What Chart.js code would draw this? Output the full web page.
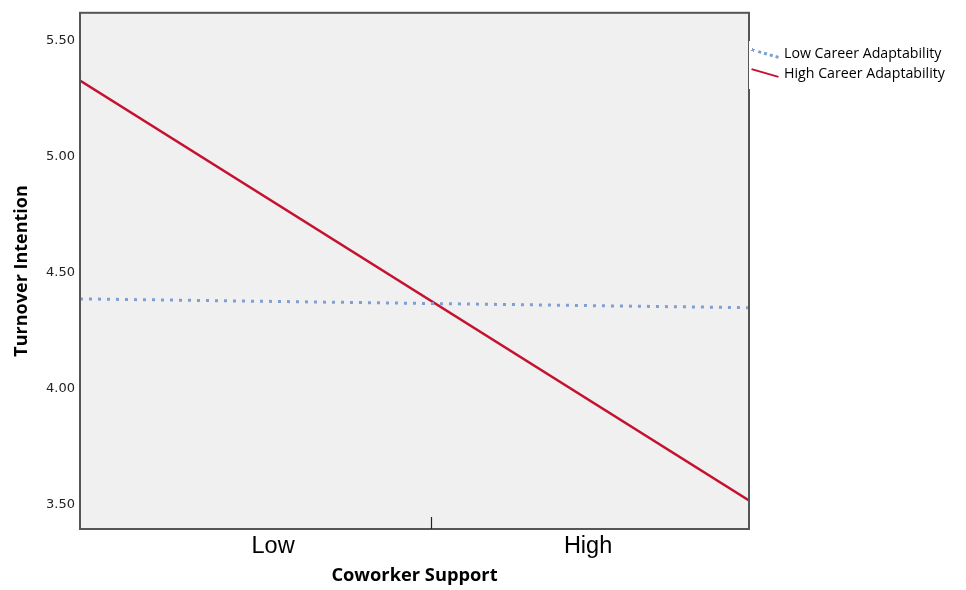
<!DOCTYPE html>
<html>
<head>
<meta charset="utf-8">
<script src="https://cdn.jsdelivr.net/npm/chart.js@4"></script>
<style>
  html, body { margin: 0; padding: 0; background: #fff; }
  #wrap { position: relative; width: 966px; height: 590px; }
  #legend {
    position: absolute; left: 749px; top: 41px; background: #fff;
    font-family: 'Open Sans', sans-serif; font-size: 14.2px; color: #000;
    padding: 2px 0 6px 2px; line-height: 20px;
  }
  .leg-row { display: flex; align-items: center; white-space: nowrap; }
  .leg-swatch { width: 28px; height: 0; margin-right: 5px; transform: rotate(16deg); }
</style>
</head>
<body>
<div id="wrap">
  <canvas id="c" width="966" height="590"></canvas>
  <div id="legend"></div>
</div>
<script>
/* ---- data ---- */
const xTickValues = [0, 0.5, 1];
const xTickLabels = ['Low', '', 'High'];
const lineXs      = [-0.613, 1.511];          // fit lines run edge to edge
const lowCA       = [4.388, 4.350];           // Low Career Adaptability
const highCA      = [5.328, 3.520];           // High Career Adaptability
const yTicks      = [3.50, 4.00, 4.50, 5.00, 5.50];
const seriesNames = ['Low Career Adaptability', 'High Career Adaptability'];

const BLUE = '#7f9fd3';
const RED  = '#c5112e';

/* ---- plot background, frame and the middle tick ---- */
const frame = {
  id: 'frame',
  beforeDraw(chart) {
    const a = chart.chartArea, ctx = chart.ctx;
    ctx.save();
    ctx.fillStyle = '#f0f0f0';
    ctx.fillRect(a.left, a.top, a.right - a.left, a.bottom - a.top);
    ctx.restore();
  },
  afterDraw(chart) {
    const a = chart.chartArea, ctx = chart.ctx;
    ctx.save();
    ctx.strokeStyle = '#555';
    ctx.lineWidth = 2;
    ctx.strokeRect(a.left, a.top, a.right - a.left, a.bottom - a.top);
    const xs = chart.scales.x;
    ctx.lineWidth = 1.2;
    ctx.strokeStyle = '#222';
    xTickLabels.forEach((lab, i) => {
      if (lab !== '') return;
      const px = Math.round(xs.getPixelForValue(xTickValues[i])) + 0.5;
      ctx.beginPath();
      ctx.moveTo(px, a.bottom);
      ctx.lineTo(px, a.bottom - 12);
      ctx.stroke();
    });
    ctx.restore();
  }
};

const toPts = vals => vals.map((v, i) => ({ x: lineXs[i], y: v }));

new Chart(document.getElementById('c'), {
  type: 'line',
  data: {
    datasets: [
      { label: seriesNames[0], data: toPts(lowCA), borderColor: BLUE, borderWidth: 3,
        borderDash: [3, 6], pointRadius: 0, fill: false },
      { label: seriesNames[1], data: toPts(highCA), borderColor: RED, borderWidth: 2.5,
        pointRadius: 0, fill: false }
    ]
  },
  options: {
    responsive: false, animation: false,
    layout: { padding: { top: 11, right: 217, left: 0, bottom: 0 } },
    plugins: { legend: { display: false }, tooltip: { enabled: false } },
    scales: {
      x: {
        type: 'linear', min: lineXs[0], max: lineXs[1],
        afterBuildTicks: s => { s.ticks = xTickValues.map(v => ({ value: v })); },
        afterFit: s => { s.height = 61; },
        grid: { display: false, drawTicks: false },
        border: { display: false },
        ticks: {
          padding: 3, color: '#000', maxRotation: 0, autoSkip: false,
          font: { family: 'Liberation Sans', size: 23.5 },
          callback: (v, i) => xTickLabels[i]
        },
        title: {
          display: true, text: 'Coworker Support', color: '#000',
          font: { family: 'Open Sans', size: 18.3, weight: 'bold' },
          padding: { top: 0, bottom: 3 }
        }
      },
      y: {
        min: 3.397, max: 5.62,
        afterBuildTicks: s => { s.ticks = yTicks.map(v => ({ value: v })); },
        afterFit: s => { s.width = 80; },
        grid: { display: false, drawTicks: false },
        border: { display: false },
        ticks: {
          padding: 5, color: '#222',
          font: { family: 'DejaVu Sans', size: 13 },
          callback: v => Number(v).toFixed(2)
        },
        title: {
          display: true, text: 'Turnover Intention', color: '#000',
          font: { family: 'Open Sans', size: 18, weight: 'bold' },
          padding: { top: 11, bottom: 0 }
        }
      }
    }
  },
  plugins: [frame]
});

/* ---- legend ---- */
const legend = document.getElementById('legend');
const swatches = [`border-top: 3px dotted ${BLUE};`, `border-top: 2.5px solid ${RED};`];
seriesNames.forEach((name, i) => {
  const row = document.createElement('div');
  row.className = 'leg-row';
  row.innerHTML = `<span class="leg-swatch" style="${swatches[i]}"></span><span>${name}</span>`;
  legend.appendChild(row);
});
</script>
</body>
</html>
